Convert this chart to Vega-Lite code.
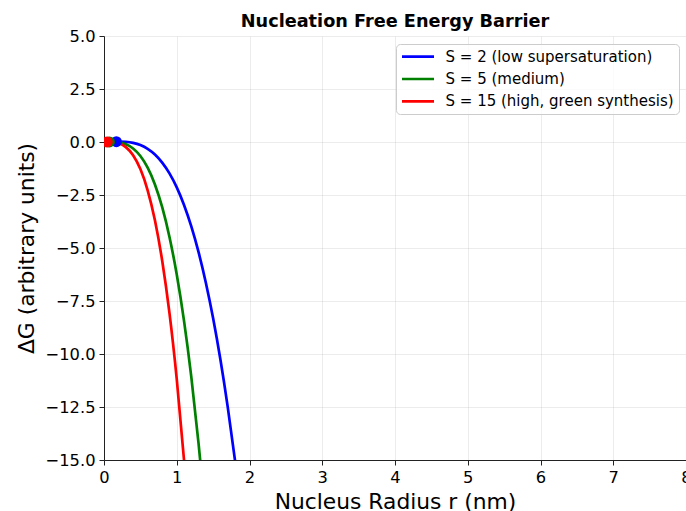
{
  "$schema": "https://vega.github.io/schema/vega-lite/v6.json",
  "width": 582,
  "height": 424,
  "autosize": {"type": "none"},
  "padding": {"left": 104, "top": 36, "right": 0, "bottom": 51},
  "background": "white",
  "config": {
    "view": {"stroke": null},
    "font": "DejaVu Sans",
    "axis": {
      "labelFont": "DejaVu Sans",
      "titleFont": "DejaVu Sans",
      "labelFontSize": 16.3,
      "titleFontSize": 21.8,
      "titleFontWeight": "normal",
      "labelColor": "#000000",
      "titleColor": "#000000",
      "domainColor": "#222222",
      "domainWidth": 1,
      "tickColor": "#222222",
      "tickWidth": 1,
      "tickSize": 5,
      "labelPadding": 4,
      "labelFlush": false,
      "grid": true,
      "gridColor": "#b0b0b0",
      "gridOpacity": 0.3,
      "gridWidth": 0.8
    },
    "legend": {
      "labelFont": "DejaVu Sans",
      "labelFontSize": 15,
      "labelColor": "#000000",
      "labelLimit": 400
    }
  },
  "title": {
    "text": "Nucleation Free Energy Barrier",
    "font": "DejaVu Sans",
    "fontSize": 17.7,
    "fontWeight": "bold",
    "color": "#000000",
    "anchor": "middle",
    "baseline": "alphabetic",
    "offset": -17
  },
  "datasets": {
    "curves": [
      {"r": 0, "dG": 0, "series": "S = 2 (low supersaturation)"},
      {"r": 0.1, "dG": 0.007, "series": "S = 2 (low supersaturation)"},
      {"r": 0.2, "dG": 0.014, "series": "S = 2 (low supersaturation)"},
      {"r": 0.3, "dG": 0.003, "series": "S = 2 (low supersaturation)"},
      {"r": 0.4, "dG": -0.044, "series": "S = 2 (low supersaturation)"},
      {"r": 0.5, "dG": -0.147, "series": "S = 2 (low supersaturation)"},
      {"r": 0.6, "dG": -0.324, "series": "S = 2 (low supersaturation)"},
      {"r": 0.7, "dG": -0.592, "series": "S = 2 (low supersaturation)"},
      {"r": 0.8, "dG": -0.973, "series": "S = 2 (low supersaturation)"},
      {"r": 0.9, "dG": -1.483, "series": "S = 2 (low supersaturation)"},
      {"r": 1.0, "dG": -2.142, "series": "S = 2 (low supersaturation)"},
      {"r": 1.1, "dG": -2.968, "series": "S = 2 (low supersaturation)"},
      {"r": 1.2, "dG": -3.98, "series": "S = 2 (low supersaturation)"},
      {"r": 1.3, "dG": -5.197, "series": "S = 2 (low supersaturation)"},
      {"r": 1.4, "dG": -6.637, "series": "S = 2 (low supersaturation)"},
      {"r": 1.5, "dG": -8.318, "series": "S = 2 (low supersaturation)"},
      {"r": 1.6, "dG": -10.261, "series": "S = 2 (low supersaturation)"},
      {"r": 1.7, "dG": -12.481, "series": "S = 2 (low supersaturation)"},
      {"r": 1.8, "dG": -15.0, "series": "S = 2 (low supersaturation)"},
      {"r": 1.85, "dG": -16.38, "series": "S = 2 (low supersaturation)"},
      {"r": 0, "dG": 0, "series": "S = 5 (medium)"},
      {"r": 0.05, "dG": 0.0015, "series": "S = 5 (medium)"},
      {"r": 0.1, "dG": 0.0025, "series": "S = 5 (medium)"},
      {"r": 0.2, "dG": -0.019, "series": "S = 5 (medium)"},
      {"r": 0.3, "dG": -0.108, "series": "S = 5 (medium)"},
      {"r": 0.4, "dG": -0.307, "series": "S = 5 (medium)"},
      {"r": 0.5, "dG": -0.661, "series": "S = 5 (medium)"},
      {"r": 0.6, "dG": -1.211, "series": "S = 5 (medium)"},
      {"r": 0.7, "dG": -2.002, "series": "S = 5 (medium)"},
      {"r": 0.8, "dG": -3.077, "series": "S = 5 (medium)"},
      {"r": 0.9, "dG": -4.479, "series": "S = 5 (medium)"},
      {"r": 1.0, "dG": -6.252, "series": "S = 5 (medium)"},
      {"r": 1.1, "dG": -8.439, "series": "S = 5 (medium)"},
      {"r": 1.2, "dG": -11.082, "series": "S = 5 (medium)"},
      {"r": 1.3, "dG": -14.226, "series": "S = 5 (medium)"},
      {"r": 1.35, "dG": -16.0, "series": "S = 5 (medium)"},
      {"r": 0, "dG": 0, "series": "S = 15 (high, green synthesis)"},
      {"r": 0.05, "dG": 0.0009, "series": "S = 15 (high, green synthesis)"},
      {"r": 0.1, "dG": -0.0025, "series": "S = 15 (high, green synthesis)"},
      {"r": 0.2, "dG": -0.059, "series": "S = 15 (high, green synthesis)"},
      {"r": 0.3, "dG": -0.241, "series": "S = 15 (high, green synthesis)"},
      {"r": 0.4, "dG": -0.623, "series": "S = 15 (high, green synthesis)"},
      {"r": 0.5, "dG": -1.277, "series": "S = 15 (high, green synthesis)"},
      {"r": 0.6, "dG": -2.277, "series": "S = 15 (high, green synthesis)"},
      {"r": 0.7, "dG": -3.694, "series": "S = 15 (high, green synthesis)"},
      {"r": 0.8, "dG": -5.601, "series": "S = 15 (high, green synthesis)"},
      {"r": 0.9, "dG": -8.074, "series": "S = 15 (high, green synthesis)"},
      {"r": 1.0, "dG": -11.183, "series": "S = 15 (high, green synthesis)"},
      {"r": 1.1, "dG": -15.0, "series": "S = 15 (high, green synthesis)"},
      {"r": 1.15, "dG": -17.2, "series": "S = 15 (high, green synthesis)"}
    ],
    "critical": [
      {"r": 0.17, "dG": 0.012, "series": "S = 2 (low supersaturation)"},
      {"r": 0.075, "dG": 0.003, "series": "S = 5 (medium)"},
      {"r": 0.045, "dG": 0.001, "series": "S = 15 (high, green synthesis)"}
    ]
  },
  "layer": [
    {
      "mark": {"type": "rule", "color": "#000000", "opacity": 0.55, "strokeWidth": 1},
      "encoding": {"y": {"datum": 0, "type": "quantitative"}}
    },
    {
      "data": {"name": "curves"},
      "mark": {"type": "line", "strokeWidth": 2.7, "clip": true, "interpolate": "monotone"},
      "encoding": {
        "x": {
          "field": "r", "type": "quantitative",
          "scale": {"domain": [0, 8], "nice": false, "zero": false},
          "axis": {"title": "Nucleus Radius r (nm)", "values": [0, 1, 2, 3, 4, 5, 6, 7, 8], "format": "d", "titlePadding": 6}
        },
        "y": {
          "field": "dG", "type": "quantitative",
          "scale": {"domain": [-15, 5], "nice": false, "zero": false},
          "axis": {"title": "ΔG (arbitrary units)", "values": [-15, -12.5, -10, -7.5, -5, -2.5, 0, 2.5, 5], "format": ".1f", "titlePadding": 7}
        },
        "color": {
          "field": "series", "type": "nominal",
          "scale": {
            "domain": ["S = 2 (low supersaturation)", "S = 5 (medium)", "S = 15 (high, green synthesis)"],
            "range": ["#0000ff", "#008000", "#ff0000"]
          },
          "legend": {
            "title": null,
            "orient": "none",
            "legendX": 292,
            "legendY": 8,
            "symbolType": "stroke",
            "symbolSize": 1024,
            "symbolStrokeWidth": 2.7,
            "clipHeight": 16.4,
            "rowPadding": 5.3,
            "labelOffset": 10,
            "padding": 4.5,
            "fillColor": "rgba(255,255,255,0.8)",
            "strokeColor": "#cccccc",
            "cornerRadius": 4
          }
        }
      }
    },
    {
      "data": {"name": "critical"},
      "mark": {"type": "point", "filled": true, "opacity": 1, "size": 120, "clip": true},
      "encoding": {
        "x": {"field": "r", "type": "quantitative"},
        "y": {"field": "dG", "type": "quantitative"},
        "color": {"field": "series", "type": "nominal"}
      }
    },
    {
      "mark": {"type": "rule", "color": "#222222", "strokeWidth": 1},
      "encoding": {"y": {"datum": 5, "type": "quantitative"}}
    }
  ]
}
